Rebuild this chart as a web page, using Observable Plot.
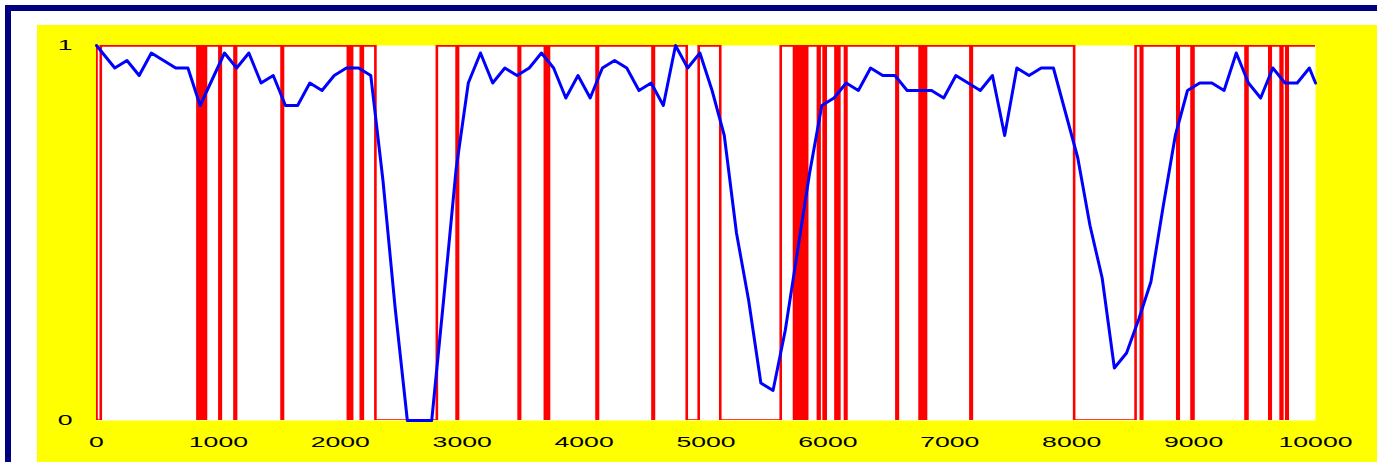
<!DOCTYPE html>
<html>
<head>
<meta charset="utf-8">
<script src="https://cdn.jsdelivr.net/npm/d3@7"></script>
<script src="https://cdn.jsdelivr.net/npm/@observablehq/plot@0.6"></script>
<style>
  html, body { margin: 0; padding: 0; background: #ffffff; overflow: hidden; width: 1377px; height: 462px; }
  #frame { position: absolute; left: 5px; top: 5px; width: 1500px; height: 600px; border: 6px solid #000080; background: #ffffff; }
  #chart { position: absolute; left: 37px; top: 25px; width: 1360px; }
</style>
</head>
<body>
<div id="frame"></div>
<div id="chart"></div>
<script>
// Blue smoothed series: sample positions and values
const sampleX = [0, ...d3.range(150, 10000, 100), 10000];
const sampleY = [
  1.00,
  0.94, 0.96, 0.92, 0.98, 0.96, 0.94, 0.94, 0.84, 0.91, 0.98,
  0.94, 0.98, 0.90, 0.92, 0.84, 0.84, 0.90, 0.88, 0.92, 0.94,
  0.94, 0.92, 0.64, 0.30, 0.00, 0.00, 0.00, 0.33, 0.67, 0.90,
  0.98, 0.90, 0.94, 0.92, 0.94, 0.98, 0.94, 0.86, 0.92, 0.86,
  0.94, 0.96, 0.94, 0.88, 0.90, 0.84, 1.00, 0.94, 0.98, 0.88,
  0.76, 0.50, 0.32, 0.10, 0.08, 0.24, 0.45, 0.66, 0.84, 0.86,
  0.90, 0.88, 0.94, 0.92, 0.92, 0.88, 0.88, 0.88, 0.86, 0.92,
  0.90, 0.88, 0.92, 0.76, 0.94, 0.92, 0.94, 0.94, 0.82, 0.70,
  0.52, 0.38, 0.14, 0.18, 0.27, 0.37, 0.57, 0.76, 0.88, 0.90,
  0.90, 0.88, 0.98, 0.90, 0.86, 0.94, 0.90, 0.90, 0.94,
  0.90
];

// Red binary signal: intervals where the signal is 0 (1 elsewhere)
const zeroStart = [0, 828, 848, 868, 888, 1008, 1132, 1518, 2062, 2085, 2168, 2288, 2954, 3463, 3678, 3700, 4102, 4561, 4842, 5117,
  5722, 5742, 5762, 5782, 5802, 5820, 5918, 5965, 6062, 6082, 6140, 6562, 6752, 6772, 6795, 7169, 8020, 8567, 8866, 8983, 9426, 9621, 9714, 9760];
const zeroEnd = [35, 838, 858, 878, 898, 1020, 1145, 1530, 2072, 2097, 2185, 2792, 2966, 3475, 3690, 3712, 4114, 4573, 4940, 5613,
  5732, 5752, 5772, 5792, 5812, 5830, 5932, 5982, 6072, 6094, 6152, 6574, 6762, 6782, 6805, 7181, 8524, 8579, 8878, 8999, 9442, 9633, 9728, 9772];

const xTicks = [0, 1000, 2000, 3000, 4000, 5000, 6000, 7000, 8000, 9000, 10000];
const yTicks = [0, 1];
const xDomain = [0, 10000];
const yDomain = [0, 1];

// build tables
const smooth = sampleX.map((x, i) => ({x, y: sampleY[i]}));
const signal = [];
zeroStart.forEach((s, i) => {
  signal.push({x: s, y: 1}, {x: s, y: 0}, {x: zeroEnd[i], y: 0}, {x: zeroEnd[i], y: 1});
});
signal.push({x: xDomain[1], y: 1});

const plot = Plot.plot({
  width: 1360,
  height: 450,
  marginLeft: 59,
  marginTop: 20,
  marginRight: 82,
  marginBottom: 55,
  style: {background: "#ffff00", fontFamily: "'Liberation Sans', Arial, sans-serif", fontSize: "14px", color: "#000", overflow: "visible", maxWidth: "none"},
  x: {domain: xDomain, ticks: xTicks, tickSize: 0, tickPadding: 17, label: null, tickFormat: d => String(d)},
  y: {domain: yDomain, ticks: yTicks, tickSize: 0, tickPadding: 24, label: null, tickFormat: d => String(d)},
  marks: [
    Plot.frame({fill: "#ffffff", stroke: null}),
    Plot.line(signal, {x: "x", y: "y", stroke: "#ff0000", strokeWidth: 2.6, curve: "linear", clip: true}),
    Plot.line(smooth, {x: "x", y: "y", stroke: "#0000ff", strokeWidth: 3, curve: "linear"})
  ]
});
plot.style.maxWidth = "none";
plot.style.width = "1360px";
plot.style.height = "450px";

// stretch tick label text horizontally to match the wide lettering
plot.querySelectorAll("text").forEach(t => {
  const x = +(t.getAttribute("x") || 0);
  const tr = t.getAttribute("transform") || "";
  t.setAttribute("transform", `${tr} translate(${x},0) scale(1.9,1) translate(${-x},0)`);
});

document.getElementById("chart").appendChild(plot);
</script>
</body>
</html>
